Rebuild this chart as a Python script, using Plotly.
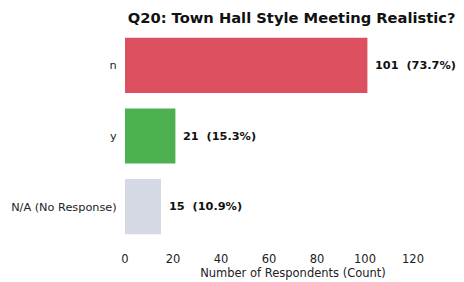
import plotly.graph_objects as go

categories = ["n", "y", "N/A (No Response)"]
counts = [101, 21, 15]
percents = [73.7, 15.3, 10.9]
colors = ["#dc5060", "#4caf50", "#d5d9e4"]
tick_vals = [0, 20, 40, 60, 80, 100, 120]

fig = go.Figure()
fig.add_trace(go.Bar(
    x=counts, y=categories, orientation="h",
    marker=dict(color=colors, line=dict(width=0)),
    width=0.78,
))
for c, v, p in zip(categories, counts, percents):
    fig.add_annotation(
        x=v, y=c, text=f"<b>{v}  ({p}%)</b>", showarrow=False,
        xanchor="left", xshift=6, font=dict(family="DejaVu Sans", size=11.3, color="#111"),
    )

fig.update_layout(
    width=456, height=274,
    margin=dict(l=117, r=3, t=22, b=40),
    paper_bgcolor="white", plot_bgcolor="white",
    title=dict(text="<b>Q20: Town Hall Style Meeting Realistic?</b>", x=0.622, xanchor="center",
               y=0.963, yanchor="middle", font=dict(family="DejaVu Sans", size=14.7, color="#111")),
    showlegend=False,
    font=dict(family="DejaVu Sans", size=11.3, color="#222"),
)
fig.update_xaxes(range=[0, 140], tickvals=tick_vals, showgrid=False, zeroline=False,
                 showline=False, ticks="outside", ticklen=6, tickcolor="white",
                 tickfont=dict(size=11.5), automargin=False,
                 title=dict(text="Number of Respondents (Count)", standoff=4, font=dict(size=11.5)))
fig.update_yaxes(categoryorder="array", categoryarray=categories[::-1], autorange=False,
                 range=[-0.5, 2.5], showgrid=False, zeroline=False, showline=False,
                 ticks="outside", ticklen=5, tickcolor="white", tickfont=dict(size=11.3),
                 automargin=False)

fig.write_html("out.html")
